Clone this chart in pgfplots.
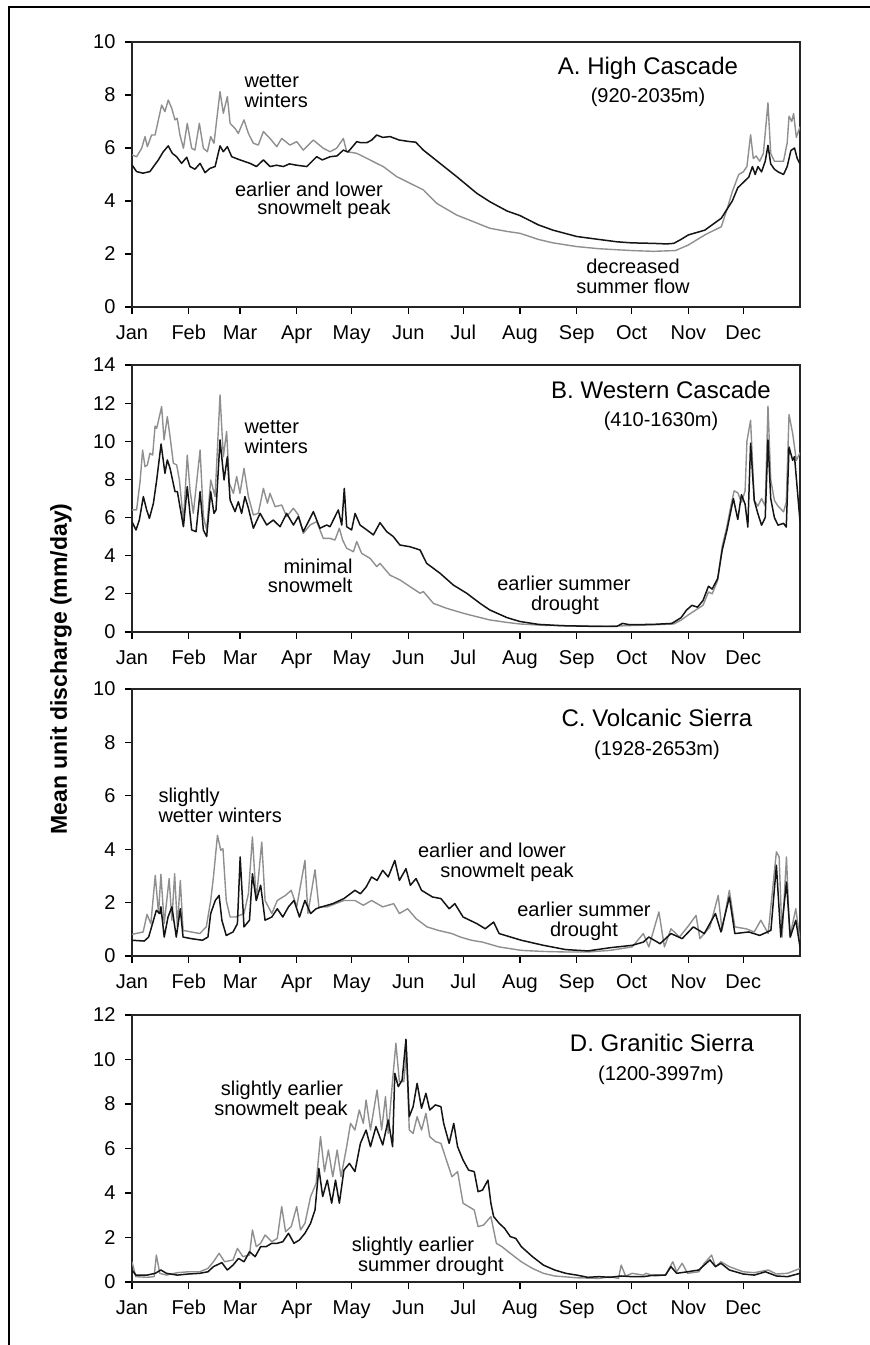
\documentclass[border=0pt]{standalone}
\usepackage{fontspec}
\setmainfont{Liberation Sans}
\usepackage{pgfplots}
\usepackage{pgfplotstable}
\pgfplotsset{compat=1.18}

\definecolor{obs}{gray}{0.08}
\definecolor{fut}{gray}{0.56}

% panel A: High Cascade
\pgfplotstableread{
day q
0 5.36
2.5 5.11
6 5.05
9.8 5.11
14.4 5.55
17 5.85
19.8 6.08
22 5.80
24.4 5.67
27.1 5.42
29.9 5.65
31.7 5.30
34.4 5.20
37.2 5.42
39.9 5.07
42.6 5.23
45.4 5.30
48.1 6.08
49.9 5.86
52.1 6.05
54.5 5.67
59.0 5.55
64.5 5.42
68 5.30
71.8 5.55
75.4 5.30
79 5.35
82.7 5.30
86 5.40
90 5.35
95.5 5.30
100.9 5.67
104 5.55
108.2 5.67
112 5.70
115.5 5.92
118 5.85
120.9 6.08
122.8 6.24
125 6.20
128.3 6.20
131 6.30
133.7 6.49
137 6.40
141 6.43
146 6.30
151.9 6.24
155 6.22
159.2 5.92
168.3 5.42
177.4 4.92
188.4 4.29
195.6 3.97
205 3.62
212 3.45
222 3.10
230 2.90
243 2.66
255 2.55
265 2.46
273 2.42
285 2.40
292 2.38
296 2.40
300 2.55
304 2.72
313 2.90
322 3.35
328 4.00
331 4.50
334 4.70
337 4.90
339 5.30
340.5 5.00
342 5.30
344 5.10
346 5.50
347.5 6.10
349 5.40
351 5.20
353 5.10
356 5.00
358 5.30
360 5.90
362 6.00
363.5 5.60
365 5.40
}\Ablack

\pgfplotstableread{
day q
0 5.74
2.5 5.67
5.3 5.99
7.1 6.43
8.4 6.05
10.7 6.49
12.6 6.49
16.2 7.62
18.0 7.37
19.8 7.81
21.7 7.50
23.5 7.06
24.7 7.12
26.2 6.49
28.1 5.99
30.2 6.93
32.6 5.99
34.4 5.92
36.8 6.93
39.0 5.99
41.2 5.86
43.0 6.43
44.8 6.18
48.1 8.13
49.9 7.31
52.1 7.94
53.6 6.93
56.3 6.74
58.1 6.55
61.2 7.06
63.6 6.55
66.3 6.18
69.0 6.11
71.8 6.62
75.4 6.36
79.1 6.05
81.8 6.36
86.3 6.11
90.0 6.24
93.6 5.92
99.1 6.30
104.5 5.99
108.2 5.86
111.8 5.99
115.5 6.36
117.3 5.86
122.8 5.80
128.3 5.61
133.7 5.42
137.3 5.30
144.6 4.92
151.9 4.67
159.2 4.42
166.5 3.91
177.4 3.47
186.5 3.22
195.6 2.97
205 2.85
212 2.78
222 2.55
230 2.42
243 2.28
255 2.20
265 2.16
273 2.13
285 2.10
297 2.13
304 2.34
313 2.72
322 3.03
325 3.66
328 4.35
331.5 5.00
334 5.10
336 5.30
338 6.50
339.5 5.60
341 5.70
343 5.50
345 5.80
347.5 7.70
349 5.80
351 5.50
353 5.50
356 5.50
358 6.20
359 7.20
360.5 7.00
361.5 7.30
363 6.40
365 6.80
}\Agray

% panel B: Western Cascade
\pgfplotstableread{
day q
0 5.78
2.2 5.35
4.0 5.87
6.2 7.10
8.0 6.40
9.5 5.96
11.7 6.75
13.5 7.97
15.9 9.86
18.0 8.32
19.3 9.02
20.8 8.58
23.5 7.36
24.8 7.36
26.2 6.57
28.1 5.52
30.2 7.62
32.6 5.35
35.0 5.26
37.2 7.36
39.0 5.35
40.8 5.00
43.0 7.36
44.8 6.22
45.9 6.40
48.1 10.07
50.3 7.97
52.1 9.19
53.6 6.92
56.3 6.31
58.1 6.83
59.9 6.22
61.7 7.10
63.6 6.49
66.3 5.44
70.0 6.22
73.6 5.61
77.2 5.87
80.9 5.52
84.5 6.22
88.2 5.61
90.9 6.05
93.6 5.26
99.1 6.31
102.7 5.44
106.4 5.61
108.2 5.52
112.7 6.40
114.6 5.61
116.0 7.53
117.3 5.52
120.0 5.35
121.9 6.22
124.6 5.61
128.3 5.35
131.9 5.09
135.5 5.73
139.2 5.26
142.8 5.00
146.4 4.56
151.9 4.47
157.4 4.30
161.0 3.60
168.3 3.08
175.6 2.46
182.9 2.03
190.2 1.50
195.6 1.15
205 0.75
212 0.55
222 0.40
235 0.33
250 0.30
265 0.30
268 0.45
272 0.38
285 0.40
295 0.45
300 0.75
303 1.15
306 1.40
309 1.30
312 1.65
315 2.40
317 2.25
320 2.80
322.5 4.30
325 5.30
328.6 7.00
331 5.90
333 7.20
335 6.70
336.5 5.50
338 9.90
340 6.90
342 6.20
344 5.60
346 6.00
347.5 10.07
349 7.00
351 6.00
353 5.60
356 5.70
357.5 5.50
359 9.70
361 9.00
362 9.20
363.5 7.50
365 5.80
}\Bblack

\pgfplotstableread{
day q
0 6.40
2.5 6.40
4.4 7.88
5.8 9.54
7.1 8.67
8.4 8.76
9.8 9.37
11.3 9.28
12.6 10.80
13.5 10.68
16.2 11.82
17.5 10.07
19.3 11.29
20.8 10.24
22.6 8.85
24.4 8.76
25.9 7.97
28.1 5.79
30.2 9.28
31.7 7.45
33.5 6.22
37.2 9.54
39.0 6.05
40.8 5.35
43.0 7.97
45.4 7.10
48.1 12.43
49.9 9.19
51.7 10.51
53.2 7.80
55.4 7.27
57.2 8.15
59.0 7.27
61.2 8.58
63.6 7.10
66.3 6.14
69.0 6.22
71.8 7.53
74.0 6.75
75.4 7.27
78.2 6.57
81.8 6.66
84.5 6.05
88.2 6.49
90.9 6.14
93.6 5.17
97.3 5.61
100.9 5.79
104.5 4.91
108.2 4.91
110.9 4.82
113.3 5.44
115.1 4.82
117.3 4.39
121.0 4.21
122.8 4.74
125.5 4.12
130.1 3.86
133.7 3.43
135.5 3.60
141.0 2.98
146.4 2.73
151.9 2.38
157.4 2.03
159.2 2.12
164.7 1.50
172.0 1.24
181.1 0.98
188.4 0.80
195.6 0.63
205 0.50
212 0.42
225 0.35
243 0.32
260 0.30
280 0.36
296 0.42
300 0.62
304 0.90
308 1.15
312 1.40
315 2.10
317 2.00
320 2.70
322.5 4.50
325 5.50
327 6.50
329 7.40
331 7.30
333 6.80
335 7.40
336 10.00
338 11.10
340 6.90
342 6.60
344 7.00
346 6.60
347.5 11.85
349 8.00
351 6.90
353 6.60
356 6.30
357.5 6.80
359 11.40
361 10.40
363 9.00
365 9.40
}\Bgray

% panel C: Volcanic Sierra
\pgfplotstableread{
day q
0 0.59
6.7 0.56
9.1 0.71
11.2 1.21
13.3 1.71
15.2 1.59
15.8 1.84
17.6 0.71
19.7 1.46
21.8 1.84
24.2 0.71
26.4 1.77
27.9 0.71
32.4 0.65
38.5 0.59
41.5 0.71
43.0 1.59
45.5 2.08
47.6 2.27
49.1 1.34
51.5 0.77
55.2 0.90
57.6 1.21
59.1 3.71
61.2 1.09
64.2 1.34
65.8 3.08
67.9 2.08
70.3 2.65
72.7 1.34
76.4 1.46
79.4 1.77
82.4 1.46
85.5 1.84
88.5 2.08
91.5 1.46
94.5 2.08
97.6 1.59
100.6 1.77
103.6 1.84
109.7 1.96
115.8 2.15
121.8 2.46
124.8 2.33
127.9 2.58
130.9 2.96
133.9 2.83
137.0 3.21
140.0 2.96
143.6 3.58
146.1 2.83
149.7 3.27
152.1 2.65
155.2 2.90
158.2 2.46
164.2 2.21
168.8 2.15
173.3 1.77
176.4 1.96
180.9 1.46
188.5 1.21
193.0 1.02
197.6 1.27
200.6 0.84
212.7 0.59
224.8 0.40
237.0 0.24
249.1 0.19
261.2 0.31
273.3 0.40
279.4 0.52
282.4 0.71
288.5 0.46
294.5 0.84
300.6 0.65
306.7 1.09
312.7 0.84
318.8 1.59
321.8 0.90
326.4 2.21
329.4 0.84
337.0 0.90
343.0 0.77
349.1 0.96
352.1 3.40
354.5 0.71
357.6 2.77
359.7 0.71
362.7 1.34
365 0.34
}\Cblack

\pgfplotstableread{
day q
0 0.81
6.1 0.90
8.2 1.56
10.3 1.21
12.7 3.02
14.5 1.59
15.8 3.06
17.6 1.21
20.3 2.90
21.8 1.34
23.3 3.08
24.8 1.09
26.4 2.83
27.9 0.96
32.4 0.90
37.0 0.84
40.6 1.09
43.0 2.08
44.5 2.96
46.7 4.52
48.5 3.96
49.7 4.02
51.5 2.08
53.6 1.46
56.7 1.46
61.2 1.59
63.6 2.33
65.8 4.46
67.9 2.08
70.9 4.27
72.7 2.08
76.4 1.59
79.4 2.08
83.9 2.27
87.0 2.46
90.0 1.84
94.5 3.58
96.1 1.59
100.0 3.23
102.1 1.84
106.7 1.84
111.2 1.96
115.8 2.08
121.8 2.08
126.4 1.90
130.9 2.08
137.0 1.84
143.0 1.96
146.1 1.59
150.6 1.77
155.2 1.40
161.2 1.09
167.3 0.96
174.8 0.84
179.4 0.71
185.5 0.59
191.5 0.52
200.6 0.34
212.7 0.21
224.8 0.17
237.0 0.15
249.1 0.15
261.2 0.21
273.3 0.34
279.4 0.84
282.4 0.34
287.9 1.65
290.9 0.34
294.5 1.02
299.1 0.71
303.6 1.09
308.2 1.52
310.3 0.65
315.8 1.09
320.3 2.27
322.4 0.96
326.4 2.46
329.4 1.09
335.5 1.02
340.0 0.90
343.6 1.34
347.6 0.84
352.1 3.90
353.6 3.71
355.2 0.71
357.6 3.71
359.4 0.71
362.7 1.77
365 0.59
}\Cgray

% panel D: Granitic Sierra
\pgfplotstableread{
day q
0 0.54
2.1 0.31
8.2 0.31
12.7 0.39
15.8 0.54
18.8 0.39
24.8 0.31
30.9 0.36
37.0 0.39
41.5 0.46
44.5 0.69
49.1 0.87
52.1 0.54
55.2 0.76
58.2 1.06
61.2 0.91
64.2 1.36
67.3 1.14
70.3 1.59
73.3 1.59
76.4 1.74
79.4 1.74
82.4 1.81
85.5 2.19
88.5 1.74
91.5 1.89
94.5 2.19
97.6 2.64
100.0 3.24
102.1 5.11
104.2 3.84
106.7 4.58
109.1 3.54
111.2 4.58
113.3 3.54
115.8 5.03
118.8 5.33
121.8 4.96
124.8 6.23
127.9 6.83
130.3 6.08
133.3 6.98
137.0 6.16
140.0 7.28
142.4 6.08
143.6 9.38
145.5 8.78
147.6 9.08
149.7 10.91
151.5 7.43
153.6 7.88
155.8 8.93
158.2 7.81
160.6 8.48
162.7 7.73
165.8 7.96
168.8 7.88
170.3 7.13
173.3 6.23
175.8 7.13
177.9 6.08
180.9 5.48
183.9 5.03
187.0 4.96
189.1 4.06
191.5 4.13
194.5 4.58
196.1 3.54
197.6 2.94
200.6 2.64
203.6 2.41
206.7 2.04
209.7 1.96
212.7 1.59
218.8 1.14
224.8 0.76
230.9 0.54
237.0 0.39
243.0 0.31
249.1 0.21
255.2 0.24
261.2 0.21
267.3 0.27
273.3 0.24
279.4 0.24
285.5 0.31
291.5 0.31
294.5 0.69
297.6 0.39
303.6 0.46
309.7 0.54
312.7 0.76
315.8 0.99
318.8 0.69
321.8 0.84
326.4 0.54
333.9 0.36
340.0 0.31
346.1 0.46
352.1 0.27
358.2 0.24
365 0.39
}\Dblack

\pgfplotstableread{
day q
0 0.91
2.1 0.24
8.2 0.21
12.1 0.24
13.3 1.21
15.2 0.39
18.8 0.31
24.8 0.42
30.9 0.46
37.0 0.46
41.5 0.61
44.5 0.91
47.6 1.29
50.6 0.91
55.2 0.99
57.6 1.51
60.6 1.14
64.2 1.21
65.8 2.34
67.9 1.59
70.3 1.74
72.7 2.11
76.4 1.81
79.4 1.96
81.8 3.39
83.9 2.26
87.0 2.49
90.0 3.39
92.1 2.34
94.5 2.64
97.6 3.84
100.6 4.43
103.0 6.53
105.2 4.96
107.3 5.93
109.7 4.73
112.1 5.93
114.2 4.73
117.3 6.08
119.4 7.13
121.8 6.83
124.2 7.73
126.4 7.13
127.9 8.18
130.3 6.83
132.4 7.88
133.9 8.63
136.4 6.83
138.5 8.33
140.0 6.68
142.4 9.08
144.2 10.73
146.1 9.00
148.5 9.00
150.0 10.35
151.5 6.83
153.6 6.68
155.8 7.43
158.2 6.83
160.6 7.58
162.7 6.53
165.8 6.31
168.8 6.23
171.8 5.48
174.8 4.73
177.9 4.96
180.9 3.54
183.9 3.39
187.0 3.24
189.1 2.49
192.1 2.56
196.1 2.94
199.1 1.74
202.1 1.59
206.7 1.29
212.7 0.91
218.8 0.61
224.8 0.39
230.9 0.27
243.0 0.19
255.2 0.16
261.2 0.24
265.8 0.16
267.3 0.76
269.7 0.27
273.3 0.39
279.4 0.31
280.9 0.39
285.5 0.27
291.5 0.31
295.5 0.91
297.6 0.46
300.6 0.84
303.6 0.39
309.7 0.46
312.7 0.84
316.7 1.21
318.8 0.69
321.8 0.91
326.4 0.69
333.9 0.46
340.0 0.42
347.6 0.54
352.1 0.36
358.2 0.39
365 0.61
}\Dgray

\pgfplotsset{
  panel/.style={
    scale only axis, width=668pt,
    xmin=0, xmax=365, ymin=0,
    xtick={0,31,59,90,120,151,181,212,243,273,304,334},
    xticklabels={Jan,Feb,Mar,Apr,May,Jun,Jul,Aug,Sep,Oct,Nov,Dec},
    tick align=outside, xtick pos=left, ytick pos=left,
    major tick length=7pt,
    tick style={black, line width=1.2pt},
    axis line style={black!85, line width=1.3pt},
    ticklabel style={font=\fontsize{20}{20}\selectfont},
    xticklabel style={text height=14.5pt, text depth=4pt, yshift=-7pt},
    yticklabel style={xshift=-6pt},
    /pgf/number format/assume math mode=true,
    anchor=south west,
  },
  blk/.style={obs, line width=1.5pt, line join=round},
  gry/.style={fut, line width=1.4pt, line join=round},
}

\newcommand{\ann}{\fontsize{20}{20}\selectfont}
\newcommand{\ttl}{\fontsize{24}{24}\selectfont}

\begin{document}
\begin{tikzpicture}[x=1pt,y=1pt]
\useasboundingbox (0,0) rectangle (870,1345);
\draw[line width=2pt] (9,0) -- (9,1338) -- (870,1338);

\begin{axis}[panel, at={(132pt,1038pt)}, height=265pt, ymax=10, ytick={0,2,...,10}]
\addplot[gry] table[x=day,y=q] {\Agray};
\addplot[blk] table[x=day,y=q] {\Ablack};
\end{axis}

\begin{axis}[panel, at={(132pt,713pt)}, height=267pt, ymax=14, ytick={0,2,...,14}]
\addplot[gry] table[x=day,y=q] {\Bgray};
\addplot[blk] table[x=day,y=q] {\Bblack};
\end{axis}

\begin{axis}[panel, at={(132pt,389pt)}, height=267pt, ymax=10, ytick={0,2,...,10}]
\addplot[gry] table[x=day,y=q] {\Cgray};
\addplot[blk] table[x=day,y=q] {\Cblack};
\end{axis}

\begin{axis}[panel, at={(132pt,63pt)}, height=267pt, ymax=12, ytick={0,2,...,12}]
\addplot[gry] table[x=day,y=q] {\Dgray};
\addplot[blk] table[x=day,y=q] {\Dblack};
\end{axis}

\node[rotate=90, font=\fontsize{23}{23}\selectfont\bfseries] at (61,676) {Mean unit discharge (mm/day)};

% A
\node[anchor=base, font=\ttl] at (648,1270) {A. High Cascade};
\node[anchor=base, font=\ann] at (648,1242) {(920-2035m)};
\node[anchor=base west, font=\ann] at (241,1257) {wetter};
\node[anchor=base west, font=\ann] at (241,1237) {winters};
\node[anchor=base, font=\ann] at (309,1148) {earlier and lower};
\node[anchor=base, font=\ann] at (324,1130) {snowmelt peak};
\node[anchor=base, font=\ann] at (633,1071) {decreased};
\node[anchor=base, font=\ann] at (633,1051) {summer flow};
% B
\node[anchor=base, font=\ttl] at (661,946) {B. Western Cascade};
\node[anchor=base, font=\ann] at (661,918) {(410-1630m)};
\node[anchor=base west, font=\ann] at (241,911) {wetter};
\node[anchor=base west, font=\ann] at (241,891) {winters};
\node[anchor=base east, font=\ann] at (356,771) {minimal};
\node[anchor=base east, font=\ann] at (356,752) {snowmelt};
\node[anchor=base, font=\ann] at (564,754) {earlier summer};
\node[anchor=base, font=\ann] at (565,734) {drought};
% C
\node[anchor=base, font=\ttl] at (657,618) {C. Volcanic Sierra};
\node[anchor=base, font=\ann] at (657,589) {(1928-2653m)};
\node[anchor=base west, font=\ann] at (155,542) {slightly};
\node[anchor=base west, font=\ann] at (155,522) {wetter winters};
\node[anchor=base, font=\ann] at (492,487) {earlier and lower};
\node[anchor=base, font=\ann] at (507,467) {snowmelt peak};
\node[anchor=base, font=\ann] at (584,428) {earlier summer};
\node[anchor=base, font=\ann] at (584,408) {drought};
% D
\node[anchor=base, font=\ttl] at (662,293) {D. Granitic Sierra};
\node[anchor=base, font=\ann] at (661,264) {(1200-3997m)};
\node[anchor=base, font=\ann] at (282,249) {slightly earlier};
\node[anchor=base, font=\ann] at (281,229) {snowmelt peak};
\node[anchor=base, font=\ann] at (413,93) {slightly earlier};
\node[anchor=base, font=\ann] at (431,73) {summer drought};
\end{tikzpicture}
\end{document}
